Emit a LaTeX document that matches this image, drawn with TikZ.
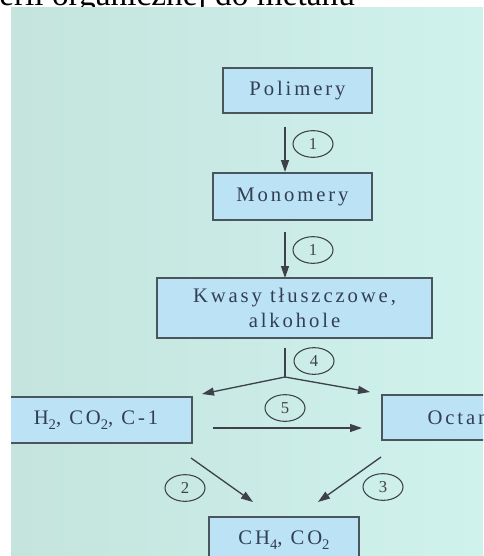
\documentclass[tikz,border=0pt]{standalone}
\usepackage{fontspec}
\setmainfont{Liberation Serif}
\newfontfamily\boxfont[LetterSpace=14]{Liberation Serif}
\usetikzlibrary{arrows.meta,shapes.geometric}
\definecolor{slideleft}{RGB}{196,228,221}
\definecolor{slideright}{RGB}{208,242,237}
\definecolor{boxfill}{RGB}{188,226,245}
\definecolor{boxline}{RGB}{75,85,92}
\definecolor{boxtext}{RGB}{50,62,82}
\definecolor{arrowcol}{RGB}{62,66,72}
\newcommand\chemsub[1]{\raisebox{-4pt}{\fontsize{11}{11}\selectfont #1}}

\begin{document}
\begin{tikzpicture}[x=0.75pt,y=-0.75pt,
  stage/.style={draw=boxline,line width=0.9pt,fill=boxfill,text=boxtext,
    font=\boxfont\fontsize{15.5}{19}\selectfont,inner sep=0pt,align=center},
  tag/.style={ellipse,draw=arrowcol,line width=0.8pt,minimum width=30pt,
    minimum height=20pt,inner sep=0pt,font=\fontsize{12.5}{13}\selectfont,text=arrowcol},
  flow/.style={draw=arrowcol,line width=1pt,-{Triangle[length=9pt,width=6pt]}},
  stem/.style={draw=arrowcol,line width=1pt}]
\useasboundingbox (0,0) rectangle (483,556);
\fill[white] (0,0) rectangle (483,556);

% heading of the page above the slide
\node[anchor=base west,inner sep=0pt,font=\fontsize{25}{30}\selectfont] (title)
  at (-1,6) {erii organicznej do metanu};

\begin{scope}
\clip (11,8) rectangle (483,556);
\shade[left color=slideleft,right color=slideright] (11,8) rectangle (483,556);

% stages of the breakdown
\node[stage,minimum width=111.75pt,minimum height=33.75pt] (poly) at (297.5,90.5) {Polimery};
\node[stage,minimum width=119.25pt,minimum height=35.25pt] (mono) at (292.5,196.5) {Monomery};
\node[stage,minimum width=206.25pt,minimum height=45pt] (acids) at (294.5,308)
  {Kwasy tłuszczowe,\\alkohole};
\node[stage,minimum width=144pt,minimum height=34.5pt] (gas) at (96,420)
  {H\chemsub2, CO\chemsub2, C-1};
\node[stage,minimum width=114pt,minimum height=33.75pt] (acet) at (458,417.5) {Octan};
\node[stage,minimum width=112.5pt,minimum height=34.5pt] (meth) at (284,540)
  {CH\chemsub4, CO\chemsub2};

% arrow end points
\coordinate (a1s) at (285,127);
\coordinate (a1e) at (285,172);
\coordinate (a2s) at (285,232);
\coordinate (a2e) at (285,278);
\coordinate (b4s) at (285,348);
\coordinate (b4j) at (285,377);
\coordinate (b4l) at (202,394);
\coordinate (b4r) at (370,392);
\coordinate (a5s) at (213,428);
\coordinate (a5e) at (362,428);
\coordinate (g2s) at (191,458);
\coordinate (g2e) at (253,502);
\coordinate (o3s) at (381,457);
\coordinate (o3e) at (318,502);

\draw[flow] (a1s) -- (a1e);
\draw[flow] (a2s) -- (a2e);
\draw[stem] (b4s) -- (b4j);
\draw[flow] (b4j) -- (b4l);
\draw[flow] (b4j) -- (b4r);
\draw[flow] (a5s) -- (a5e);
\draw[flow] (g2s) -- (g2e);
\draw[flow] (o3s) -- (o3e);

% step numbers
\node[tag] (t1a) at (313,144) {1};
\node[tag] (t1b) at (313,250) {1};
\node[tag] (t4) at (314,361) {4};
\node[tag] (t5) at (285,408) {5};
\node[tag] (t2) at (185,488) {2};
\node[tag] (t3) at (383,487) {3};
\end{scope}
\end{tikzpicture}
\end{document}
